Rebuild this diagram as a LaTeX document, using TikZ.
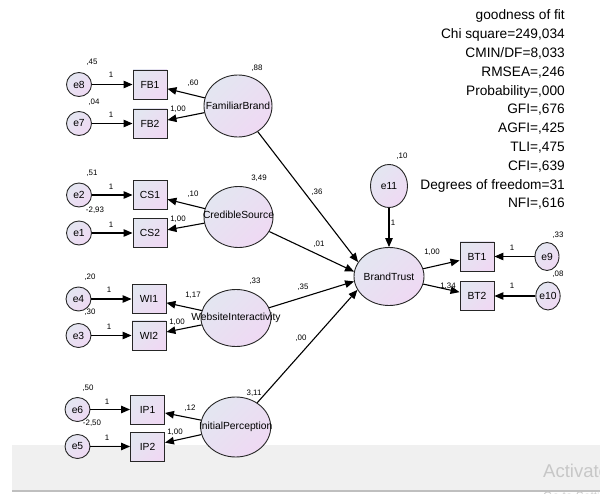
\documentclass[tikz,border=0pt]{standalone}
\usepackage{fontspec}
\setmainfont{Liberation Sans}
\usetikzlibrary{arrows.meta,shapes.geometric,calc}
\definecolor{fillA}{HTML}{E3E6F1}
\definecolor{fillB}{HTML}{EFD9F3}
\definecolor{bandgray}{HTML}{F0F0F0}
\begin{document}
\begin{tikzpicture}[x=1pt,y=-1pt,
  every node/.style={inner sep=0pt},
  filled/.style={draw=black!85,line width=0.9pt,left color=fillA,right color=fillB,shading angle=45},
  obs/.style={filled,rectangle,minimum width=34pt,minimum height=29pt,font=\fontsize{10.3}{12}\selectfont},
  err/.style={filled,ellipse,minimum width=25pt,minimum height=24pt,font=\fontsize{10.3}{12}\selectfont},
  lat/.style={filled,ellipse,minimum width=70pt,minimum height=60pt},
  ltxt/.style={font=\fontsize{10.3}{12}\selectfont},
  num/.style={font=\fontsize{7.9}{9}\selectfont},
  arr/.style={line width=1.1pt,-{Triangle[length=9pt,width=7.5pt]}},
  gof/.style={font=\fontsize{13.7}{16}\selectfont,anchor=base east}]
\useasboundingbox (0,0) rectangle (600,494);
% watermark band
\fill[bandgray] (12,445) rectangle (600,490);
\draw[black!25,line width=1.5pt] (12,491) -- (600,491);
\node[anchor=base west,text=black!22,font=\fontsize{18.5}{20}\selectfont] (wm1) at (543,477) {Activate};
\node[anchor=base west,text=black!22,font=\fontsize{12}{14}\selectfont] (wm2) at (543,500) {Go to Settings};

% goodness of fit
\foreach \t [count=\i] in {goodness of fit,{Chi square=249,034},{CMIN/DF=8,033},{RMSEA=,246},{Probability=,000},{GFI=,676},{AGFI=,425},{TLI=,475},{CFI=,639},Degrees of freedom=31,{NFI=,616}}
  \node[gof] (g\i) at (565,{20+18.8*(\i-1)}) {\t};

% FamiliarBrand group
\node[err] (e8) at (79,84.5) {e8};
\node[err] (e7) at (79,123.5) {e7};
\node[obs] (FB1) at (150,84.5) {FB1};
\node[obs] (FB2) at (150,123.5) {FB2};
\node[lat,minimum width=68pt,minimum height=62pt] (FamiliarBrand) at (238,106) {};
\node[ltxt] (tFB) at (FamiliarBrand) {FamiliarBrand};

% CredibleSource group
\node[err] (e2) at (79,195) {e2};
\node[err] (e1) at (79,233) {e1};
\node[obs] (CS1) at (150,195) {CS1};
\node[obs] (CS2) at (150,233) {CS2};
\node[lat,minimum width=69pt,minimum height=61pt] (CredibleSource) at (238.5,217) {};
\node[ltxt] (tCS) at ($(CredibleSource)+(0,-2)$) {CredibleSource};

% WebsiteInteractivity group
\node[err] (e4) at (78.5,299) {e4};
\node[err] (e3) at (78.5,335.5) {e3};
\node[obs] (WI1) at (149,299) {WI1};
\node[obs] (WI2) at (149,335.5) {WI2};
\node[lat,minimum width=70pt,minimum height=57pt] (WebsiteInteractivity) at (236,318) {};
\node[ltxt] (tWI) at (WebsiteInteractivity) {WebsiteInteractivity};

% InitialPerception group
\node[err] (e6) at (77.5,409.5) {e6};
\node[err] (e5) at (77.5,446.5) {e5};
\node[obs] (IP1) at (147.5,409.5) {IP1};
\node[obs] (IP2) at (147.5,446.5) {IP2};
\node[lat,minimum width=70pt,minimum height=60pt] (InitialPerception) at (235.7,427) {};
\node[ltxt] (tIP) at (InitialPerception) {InitialPerception};

% BrandTrust group
\node[lat,minimum width=70pt,minimum height=58pt] (BrandTrust) at (389,276.5) {};
\node[ltxt] (tBT) at (BrandTrust) {BrandTrust};
\node[err,minimum width=37pt,minimum height=43pt] (e11) at (389,186) {e11};
\node[obs] (BT1) at (477,256.5) {BT1};
\node[obs] (BT2) at (477,296) {BT2};
\node[err,minimum width=24pt,minimum height=28pt] (e9) at (547,256.5) {e9};
\node[err,minimum width=24pt,minimum height=28pt] (e10) at (548,296) {e10};

% arrows
\foreach \a/\b in {e8/FB1,e7/FB2,e2/CS1,e1/CS2,e4/WI1,e3/WI2,e6/IP1,e5/IP2,
  FamiliarBrand/FB1,FamiliarBrand/FB2,CredibleSource/CS1,CredibleSource/CS2,
  WebsiteInteractivity/WI1,WebsiteInteractivity/WI2,InitialPerception/IP1,InitialPerception/IP2,
  e11/BrandTrust,BrandTrust/BT1,BrandTrust/BT2,e9/BT1,e10/BT2}
  \draw[arr] (\a) -- (\b);
\draw[arr] (FamiliarBrand) -- (BrandTrust.155);
\draw[arr] (CredibleSource) -- (BrandTrust.172);
\draw[arr] (WebsiteInteractivity) -- (BrandTrust.188);
\draw[arr] (InitialPerception) -- (BrandTrust.203);

% numbers
\foreach \x/\y/\t [count=\i] in {
  92/62/{,45},94/102/{,04},257/68/{,88},111/75/1,111/115/1,193/83/{,60},178/109/{1,00},
  92/173/{,51},95/210/{-2,93},259/178/{3,49},111/187/1,111/225/1,193/194/{,10},178/219/{1,00},
  90/277/{,20},90/312/{,30},255/281/{,33},109/290/1,109/327/1,193/295/{1,17},177/322/{1,00},
  88/388/{,50},92/423/{-2,50},254/393/{3,11},107/402/1,107/438/1,190/408/{,12},175/432/{1,00},
  317/192/{,36},319/244/{,01},303/287/{,35},301/338/{,00},
  402/156/{,10},393/223/1,432/252/{1,00},448/286/{1,34},512/248/1,512/286/1,558/235/{,33},558/274/{,08}}
  \node[num] (n\i) at (\x,\y) {\t};
\end{tikzpicture}
\end{document}
